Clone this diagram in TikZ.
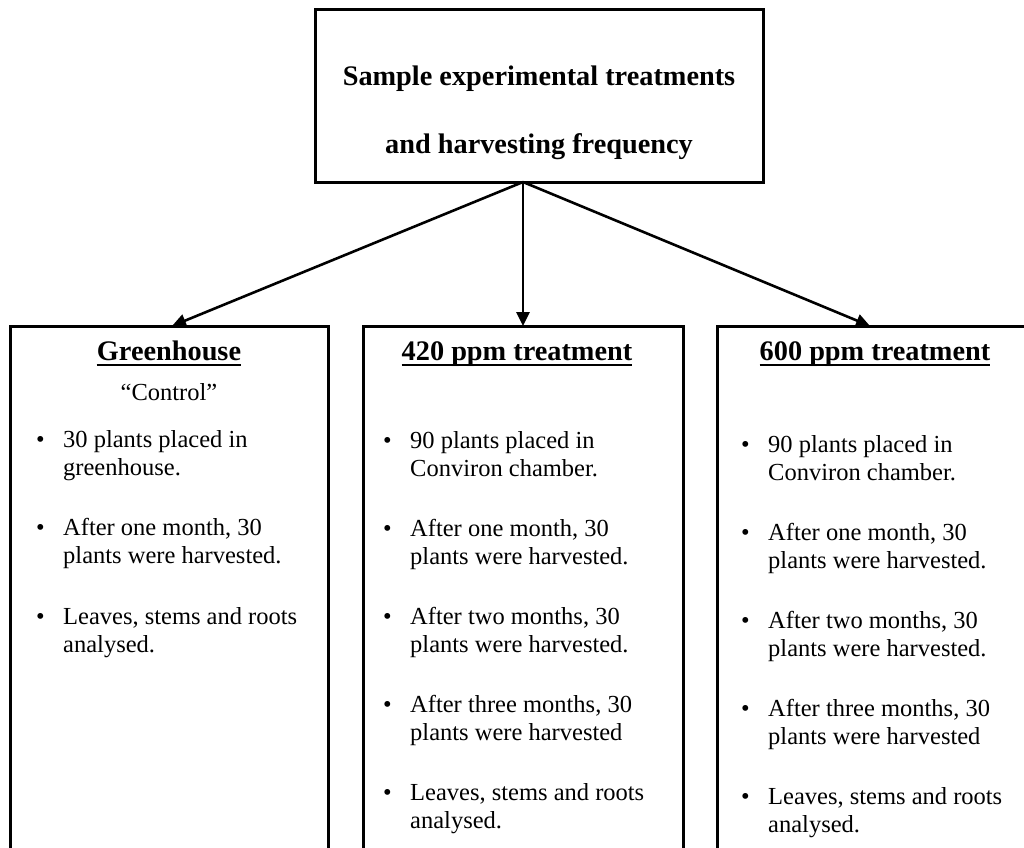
\documentclass[tikz,border=0pt]{standalone}
\usepackage{fontspec}
\setmainfont{Liberation Serif}
\usetikzlibrary{arrows.meta}
\newcommand\bitem[2]{\begin{tabular}[t]{@{}p{27pt}@{}l@{}}\textbullet & #1\\ & #2\end{tabular}}
\begin{document}
\begin{tikzpicture}[x=1pt,y=-1pt,>={Triangle[length=14pt,width=13pt]},
    box/.style={draw,line width=3pt,anchor=north west,inner sep=0pt,outer sep=0pt},
    head/.style={anchor=base,inner sep=0pt,font=\fontsize{28.3}{34}\selectfont\bfseries},
    txt/.style={anchor=base west,inner sep=0pt,font=\fontsize{24.5}{28.5}\selectfont},
    uline/.style={line width=2.4pt}]
    \useasboundingbox (0,0) rectangle (1024,847);
    \clip (0,0) rectangle (1024,847);
    \node[box,minimum width=448pt,minimum height=173pt] (top) at (315,9) {};
    \node[head] (title1) at (539,85) {Sample experimental treatments};
    \node[head] (title2) at (539,153) {and harvesting frequency};
    \node[box,minimum width=318pt,minimum height=560pt] (gh) at (10,326) {};
    \node[box,minimum width=320pt,minimum height=560pt] (low) at (363,326) {};
    \node[box,minimum width=316pt,minimum height=560pt] (high) at (717,326) {};
    \coordinate (hub) at ([xshift=-16pt]top.south);
    \draw[->,line width=2.6pt] (hub) -- ([xshift=3pt]gh.north);
    \draw[->,line width=2.6pt] (hub) -- (low.north);
    \draw[->,line width=2.6pt] (hub) -- ([xshift=-5pt]high.north);
    % greenhouse
    \node[head] (gh-t) at (169,360) {Greenhouse};
    \draw[uline] ([yshift=-5pt]gh-t.base west) -- ([yshift=-5pt]gh-t.base east);
    \node[txt,anchor=base] (gh-c) at (169,400) {“Control”};
    \node[txt] (gh-1) at (36,447) {\bitem{30 plants placed in}{greenhouse.}};
    \node[txt] (gh-2) at (36,535) {\bitem{After one month, 30}{plants were harvested.}};
    \node[txt] (gh-3) at (36,624) {\bitem{Leaves, stems and roots}{analysed.}};
    % 420 ppm
    \node[head] (low-t) at (517,360) {420 ppm treatment};
    \draw[uline] ([yshift=-5pt]low-t.base west) -- ([yshift=-5pt]low-t.base east);
    \node[txt] (low-1) at (383,448) {\bitem{90 plants placed in}{Conviron chamber.}};
    \node[txt] (low-2) at (383,536) {\bitem{After one month, 30}{plants were harvested.}};
    \node[txt] (low-3) at (383,624) {\bitem{After two months, 30}{plants were harvested.}};
    \node[txt] (low-4) at (383,712) {\bitem{After three months, 30}{plants were harvested}};
    \node[txt] (low-5) at (383,800) {\bitem{Leaves, stems and roots}{analysed.}};
    % 600 ppm
    \node[head] (high-t) at (875,360) {600 ppm treatment};
    \draw[uline] ([yshift=-5pt]high-t.base west) -- ([yshift=-5pt]high-t.base east);
    \node[txt] (high-1) at (741,452) {\bitem{90 plants placed in}{Conviron chamber.}};
    \node[txt] (high-2) at (741,540) {\bitem{After one month, 30}{plants were harvested.}};
    \node[txt] (high-3) at (741,628) {\bitem{After two months, 30}{plants were harvested.}};
    \node[txt] (high-4) at (741,716) {\bitem{After three months, 30}{plants were harvested}};
    \node[txt] (high-5) at (741,804) {\bitem{Leaves, stems and roots}{analysed.}};
\end{tikzpicture}
\end{document}
